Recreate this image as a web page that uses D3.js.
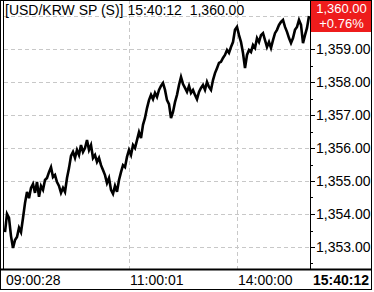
<!DOCTYPE html>
<html>
<head>
<meta charset="utf-8">
<script src="https://cdn.jsdelivr.net/npm/d3@7"></script>
<style>
  body { margin: 0; background: #fff; }
  text { font-family: "Liberation Sans", Arial, sans-serif; font-size: 14px; }
</style>
</head>
<body>
<div id="chart"></div>
<script>
// 가격 (일정 간격 틱)
var prices = [
  1353.45, 1354.00, 1353.88, 1353.33, 1352.97, 1353.21, 1353.30, 1353.58, 1353.45, 1353.88,
  1354.33, 1354.67, 1354.48, 1354.79, 1354.91, 1354.64, 1354.97, 1354.52, 1354.85, 1354.73,
  1355.03, 1355.09, 1355.27, 1355.42, 1355.12, 1355.18, 1354.97, 1354.85, 1354.64, 1354.79,
  1354.67, 1355.09, 1355.39, 1355.76, 1355.88, 1355.70, 1355.94, 1355.79, 1356.09, 1355.88,
  1356.00, 1356.24, 1355.94, 1356.09, 1355.70, 1355.79, 1355.58, 1355.70, 1355.48, 1355.33,
  1355.18, 1354.94, 1355.09, 1354.73, 1354.61, 1354.85, 1354.67, 1355.03, 1355.27, 1355.48,
  1355.42, 1355.73, 1355.94, 1355.79, 1356.09, 1356.00, 1356.24, 1356.48, 1356.30, 1356.70,
  1356.91, 1357.21, 1357.45, 1357.61, 1357.48, 1357.67, 1357.55, 1357.76, 1357.88, 1357.97,
  1357.76, 1357.45, 1357.33, 1356.91, 1357.09, 1357.39, 1357.61, 1357.91, 1358.15, 1357.94,
  1357.82, 1357.70, 1357.88, 1357.67, 1357.76, 1357.61, 1357.48, 1357.70, 1357.82, 1357.91,
  1357.76, 1358.00, 1357.85, 1357.76, 1358.06, 1358.27, 1358.42, 1358.58, 1358.61, 1358.73,
  1358.82, 1358.97, 1358.88, 1359.06, 1359.21, 1359.58, 1359.67, 1359.42, 1359.21, 1358.88,
  1358.42, 1358.82, 1358.97, 1358.91, 1359.12, 1359.03, 1359.33, 1359.21, 1359.42, 1359.48,
  1359.27, 1359.06, 1359.21, 1359.03, 1359.27, 1359.48, 1359.58, 1359.73, 1359.82, 1359.88,
  1359.67, 1359.52, 1359.33, 1359.18, 1359.33, 1359.58, 1359.67, 1359.88, 1359.73, 1359.18,
  1359.42, 1359.64, 1360.00
];
// x축 라벨 (틱 인덱스)
var timeTicks = [0, 62, 116];
var timeLabels = ['09:00:28', '11:00:01', '14:00:00'];
var yTicks = [1353, 1354, 1355, 1356, 1357, 1358, 1359, 1360];
var symbol = '[USD/KRW SP (S)]';
var lastTime = '15:40:12';
var lastPrice = 1360.00;
var changePct = 0.76;

var width = 374, height = 292,
    plotRight = 310, axisRight = 371, plotBottom = 269, boxH = 32;

var svg = d3.select('#chart').append('svg')
    .attr('width', width)
    .attr('height', height);

var x = d3.scaleLinear().domain([0, prices.length - 1]).range([5, 309]);
var y = d3.scaleLinear().domain([1353, 1360]).range([247, 16]);
var fmt = d3.format(',.2f');

svg.append('clipPath').attr('id', 'plotClip')
  .append('rect').attr('x', 3).attr('y', 0).attr('width', plotRight - 3).attr('height', plotBottom);
svg.append('clipPath').attr('id', 'axisClip')
  .append('rect').attr('x', plotRight).attr('y', 0).attr('width', axisRight - plotRight).attr('height', plotBottom);

//그리드
var grid = svg.append('g').attr('clip-path', 'url(#plotClip)');
grid.selectAll('.hgrid').data(yTicks).enter().append('line')
    .attr('x1', 4).attr('x2', plotRight)
    .attr('y1', function (d) { return Math.round(y(d)) + 0.5; })
    .attr('y2', function (d) { return Math.round(y(d)) + 0.5; })
    .attr('stroke', '#c8c8c8').attr('stroke-dasharray', '4,3');
grid.selectAll('.vgrid').data(timeTicks.filter(function (d) { return x(d) > 10; })).enter().append('line')
    .attr('x1', function (d) { return Math.round(x(d)) + 0.5; })
    .attr('x2', function (d) { return Math.round(x(d)) + 0.5; })
    .attr('y1', 0).attr('y2', plotBottom)
    .attr('stroke', '#c8c8c8').attr('stroke-dasharray', '4,3');

//가격 선
var line = d3.line()
    .x(function (d, i) { return x(i); })
    .y(function (d) { return y(d); });
svg.append('path')
    .datum(prices)
    .attr('clip-path', 'url(#plotClip)')
    .attr('d', line)
    .attr('fill', 'none')
    .attr('stroke', '#000')
    .attr('stroke-width', 2.6)
    .attr('stroke-linejoin', 'miter');

//제목
svg.append('text')
    .attr('x', 5).attr('y', 15)
    .text(symbol + ' ' + lastTime + '  ' + fmt(lastPrice))
    .attr('xml:space', 'preserve')
    .style('white-space', 'pre');

//오른쪽 축 (현재가 박스에 가려지는 눈금은 생략)
var ax = svg.append('g').attr('clip-path', 'url(#axisClip)');
var visible = function (d) { return y(d) > boxH + 4; };
var minor = d3.range(1352.5, 1360.5, 1).filter(visible);
ax.selectAll('.minor').data(minor).enter().append('line')
    .attr('x1', plotRight).attr('x2', plotRight + 3)
    .attr('y1', function (d) { return Math.round(y(d)) + 0.5; })
    .attr('y2', function (d) { return Math.round(y(d)) + 0.5; })
    .attr('stroke', '#000');
ax.selectAll('.major').data(yTicks.filter(visible)).enter().append('line')
    .attr('x1', plotRight).attr('x2', plotRight + 5)
    .attr('y1', function (d) { return Math.round(y(d)) + 0.5; })
    .attr('y2', function (d) { return Math.round(y(d)) + 0.5; })
    .attr('stroke', '#000');
ax.selectAll('.ylab').data(yTicks.filter(visible)).enter().append('text')
    .attr('x', plotRight + 6)
    .attr('y', function (d) { return y(d) + 5; })
    .text(function (d) { return fmt(d); });

//현재가 박스
svg.append('rect')
    .attr('x', plotRight).attr('y', 0)
    .attr('width', axisRight - plotRight).attr('height', boxH)
    .attr('fill', '#ee1c1c');
svg.append('text')
    .attr('x', (plotRight + axisRight) / 2 + 1).attr('y', 13)
    .attr('text-anchor', 'middle').attr('fill', '#fff')
    .style('font-size', '13px')
    .text(fmt(lastPrice));
svg.append('text')
    .attr('x', (plotRight + axisRight) / 2 + 1).attr('y', 28)
    .attr('text-anchor', 'middle').attr('fill', '#fff')
    .style('font-size', '13px')
    .text('+' + d3.format('.2f')(changePct) + '%');

//테두리
svg.append('line').attr('x1', plotRight + 0.5).attr('x2', plotRight + 0.5)
    .attr('y1', 0).attr('y2', plotBottom).attr('stroke', '#000');
svg.append('line').attr('x1', 3.5).attr('x2', 3.5)
    .attr('y1', 0).attr('y2', plotBottom).attr('stroke', '#000');
svg.append('line').attr('x1', 0).attr('x2', axisRight + 1)
    .attr('y1', plotBottom + 0.5).attr('y2', plotBottom + 0.5)
    .attr('stroke', '#000').attr('stroke-width', 2);
svg.append('rect').attr('x', 0.5).attr('y', 0.5)
    .attr('width', axisRight).attr('height', 289)
    .attr('fill', 'none').attr('stroke', '#000');

//x축 라벨
svg.selectAll('.xlab').data(timeTicks).enter().append('text')
    .attr('x', function (d) { return Math.max(4, Math.round(x(d)) + 1); })
    .attr('y', 285)
    .text(function (d, i) { return timeLabels[i]; });
svg.append('text')
    .attr('x', 369).attr('y', 285)
    .attr('text-anchor', 'end')
    .attr('font-weight', 'bold')
    .text(lastTime);
</script>
</body>
</html>
